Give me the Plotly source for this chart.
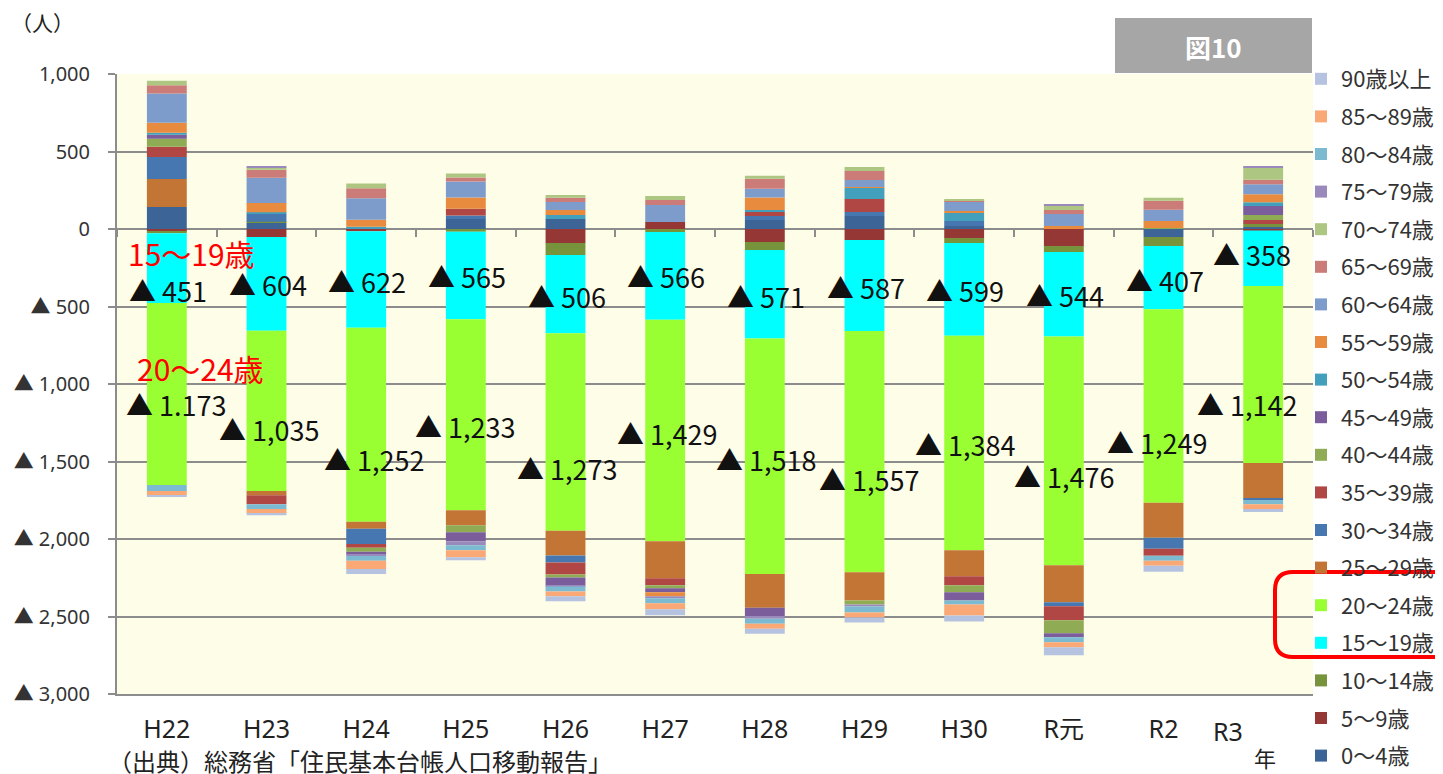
import plotly.graph_objects as go

# ---------------- data ----------------
years = ["H22", "H23", "H24", "H25", "H26", "H27", "H28", "H29", "H30", "R元", "R2", "R3"]

age_groups = ["0～4歳", "5～9歳", "10～14歳", "15～19歳", "20～24歳", "25～29歳",
              "30～34歳", "35～39歳", "40～44歳", "45～49歳", "50～54歳", "55～59歳",
              "60～64歳", "65～69歳", "70～74歳", "75～79歳", "80～84歳", "85～89歳",
              "90歳以上"]

a00_04 = [142, 39, -5, 65, 65, 0, 58, 84, 19, 0, -52, 13]
a05_09 = [-17, -52, -10, 0, -90, 45, -84, -71, -58, -110, 0, -10]
a10_14 = [-10, 8, 0, -17, -77, -19, -52, 0, -32, -39, -58, 19]
a15_19 = [-451, -604, -622, -565, -506, -566, -571, -587, -599, -544, -407, -358]
a20_24 = [-1173, -1035, -1252, -1233, -1273, -1429, -1518, -1557, -1384, -1476, -1249, -1142]
a25_29 = [181, -26, -45, -97, -161, -239, -219, -181, -168, -239, -226, -226]
a30_34 = [142, 52, -99, 22, -45, 0, 26, 26, 32, -26, -71, -13]
a35_39 = [65, -58, -24, 43, -77, -45, 26, 84, -58, -90, -45, 26]
a40_44 = [52, 0, -26, -45, -19, -19, 0, -26, -45, -84, 6, 32]
a45_49 = [26, 0, -15, -58, -52, -26, -52, 0, -52, -26, 0, 58]
a50_54 = [13, 9, 15, 0, 26, 0, 13, 71, 52, 0, 0, 24]
a55_59 = [65, 60, 45, 73, 32, -26, 80, 6, 13, 19, 45, 52]
a60_64 = [189, 163, 138, 103, 52, 110, 56, 45, 58, 77, 73, 65]
a65_69 = [52, 52, 65, 26, 26, 32, 65, 58, 13, 26, 58, 28]
a70_74 = [30, 13, 30, 26, 19, 26, 19, 26, 6, 32, 19, 77]
a75_79 = [0, 6, -11, -26, -6, -13, -19, -13, 0, 6, 0, 13]
a80_84 = [-39, -32, -32, -32, -32, -32, -32, -39, -26, -32, -32, -26]
a85_89 = [-26, -26, -52, -45, -32, -39, -32, -32, -71, -32, -32, -32]
a90_up = [-13, -13, -32, -19, -32, -39, -32, -32, -39, -52, -39, -19]

series = [a00_04, a05_09, a10_14, a15_19, a20_24, a25_29, a30_34, a35_39, a40_44,
          a45_49, a50_54, a55_59, a60_64, a65_69, a70_74, a75_79, a80_84, a85_89, a90_up]

colors = ["#3C6496", "#953735", "#77933C", "#00FFFF", "#99FF33", "#C27535",
          "#4677B0", "#B14744", "#8FAC55", "#7A5D9A", "#42A0BC", "#E98B3F",
          "#7E9CCB", "#CB7B78", "#ADC682", "#9A8ABB", "#7BBAD1", "#F9A876",
          "#B5C3E0"]

y_tickvals = [-3000, -2500, -2000, -1500, -1000, -500, 0, 500, 1000]
y_ticktext = ["▲ 3,000", "▲ 2,500", "▲ 2,000", "▲ 1,500", "▲ 1,000", "▲ 500", "0", "500", "1,000"]

# x tick labels (the last one is drawn a little to the left, beside "年")
x_ticktext = ["H22", "H23", "H24", "H25", "H26", "H27", "H28", "H29", "H30", "R元", "R2", ""]
last_tick_label = "R3"

# label text for the two highlighted groups
lab15_text = ["▲ 451", "▲ 604", "▲ 622", "▲ 565", "▲ 506", "▲ 566", "▲ 571", "▲ 587",
              "▲ 599", "▲ 544", "▲ 407", "▲ 358"]
lab20_text = ["▲ 1.173", "▲ 1,035", "▲ 1,252", "▲ 1,233", "▲ 1,273", "▲ 1,429", "▲ 1,518",
              "▲ 1,557", "▲ 1,384", "▲ 1,476", "▲ 1,249", "▲ 1,142"]
# manual label nudges (px)
lab15_dx = [1, 1, 1, 1, 1, 1, 1, 1, 1, 1, 1, -11]
lab15_dy = [-22, -1, -2, -1, -2, -1, -2, -2, -1, -1, -3, 4]
lab20_dx = [10, 3, 8, 0, 2, 2, 2, 5, 1, 1, -6, -16]
lab20_dy = [-10, -19, -35, -12, -37, -3, -3, -28, -1, -26, -37, -30]

# ---------------- figure ----------------
FONT = "Noto Sans CJK JP, Noto Sans, sans-serif"
TICKFONT = "Noto Sans, Noto Sans CJK JP, sans-serif"
OFF = 8  # page body margin
W, H = 1443 - OFF, 774 - OFF
# plot area in page pixels
L, R, T, B = 117, 1313, 74, 694

def px(xp):
    return (xp - L) / (R - L)

def py(yp):
    return (B - yp) / (B - T)

fig = go.Figure()

for i, (name, vals, col) in enumerate(zip(age_groups, series, colors)):
    fig.add_trace(go.Bar(
        x=years, y=vals, name=name, marker=dict(color=col, line=dict(width=0)),
        legendgroup=name, legendrank=1000 - i * 10, hoverinfo="x+y+name",
    ))

# invisible trace for the axis at zero (category ticks)
fig.add_trace(go.Scatter(x=years, y=[0] * len(years), xaxis="x2", mode="none",
                         showlegend=False, hoverinfo="skip"))

annotations = []
for j, yr in enumerate(years):
    base = sum(v[j] for v in (a00_04, a05_09, a10_14) if v[j] < 0)
    mid15 = base + a15_19[j] / 2
    mid20 = base + a15_19[j] + a20_24[j] / 2
    annotations.append(dict(x=yr, y=mid15, text=lab15_text[j], showarrow=False,
                            xanchor="center", yanchor="middle",
                            xshift=lab15_dx[j], yshift=lab15_dy[j],
                            font=dict(size=27, color="#111111", family=FONT)))
    annotations.append(dict(x=yr, y=mid20, text=lab20_text[j], showarrow=False,
                            xanchor="center", yanchor="middle",
                            xshift=lab20_dx[j], yshift=lab20_dy[j],
                            font=dict(size=27, color="#111111", family=FONT)))

def paper_text(x, y, text, size, color="#222222", xanchor="center", family=FONT):
    return dict(xref="paper", yref="paper", x=px(x), y=py(y), text=text, showarrow=False,
                xanchor=xanchor, yanchor="middle",
                font=dict(size=size, color=color, family=family))

annotations += [
    paper_text(191, 253, "15～19歳", 30, "#FF0000"),
    paper_text(200, 368, "20～24歳", 30, "#FF0000"),
    paper_text(42, 22, "（人）", 21),
    paper_text(106, 760, "（出典）総務省「住民基本台帳人口移動報告」", 24, xanchor="left"),
    paper_text(1265, 757, "年", 22),
    paper_text(1228, 731, last_tick_label, 25, family=TICKFONT),
    paper_text(1213, 46, "<b>図10</b>", 26, "#FFFFFF"),
]

def rounded_box_path():
    r_x, r_y = 18, 18
    x0, x1, y0, y1 = 1275, 1460, 572, 657
    return (f"M {px(x1)} {py(y0)} L {px(x0 + r_x)} {py(y0)} "
            f"Q {px(x0)} {py(y0)} {px(x0)} {py(y0 + r_y)} "
            f"L {px(x0)} {py(y1 - r_y)} "
            f"Q {px(x0)} {py(y1)} {px(x0 + r_x)} {py(y1)} "
            f"L {px(x1)} {py(y1)}")

shapes = [
    dict(type="rect", xref="paper", yref="paper", x0=px(1115), x1=px(1312),
         y0=py(73), y1=py(18), fillcolor="#A6A6A6", line=dict(width=0), layer="below"),
    dict(type="path", xref="paper", yref="paper", path=rounded_box_path(),
         line=dict(color="#FF0000", width=4), layer="above"),
]

fig.update_layout(
    width=W, height=H,
    barmode="relative", bargap=0.6,
    plot_bgcolor="#FEFDE8", paper_bgcolor="#FFFFFF",
    margin=dict(l=L - OFF, r=W - (R - OFF), t=T - OFF, b=H - (B - OFF), pad=0,
                autoexpand=False),
    font=dict(family=FONT, color="#222222"),
    showlegend=True,
    legend=dict(
        traceorder="grouped", tracegroupgap=6,
        x=px(1301), y=py(58), xanchor="left", yanchor="top",
        font=dict(size=22, color="#333333", family=FONT),
        bgcolor="rgba(0,0,0,0)", borderwidth=0, itemwidth=30, maxheight=1,
    ),
    xaxis=dict(
        type="category", categoryorder="array", categoryarray=years,
        tickvals=years, ticktext=x_ticktext, automargin=False,
        showgrid=False, showline=True, linecolor="#8C8C8C", linewidth=2,
        ticks="", tickfont=dict(size=25, color="#222222", family=TICKFONT),
        ticklabelstandoff=12, zeroline=False, fixedrange=True,
    ),
    xaxis2=dict(
        type="category", categoryorder="array", categoryarray=years,
        overlaying="x", matches="x", anchor="free", position=0.75, automargin=False,
        showline=False, showgrid=False, ticks="outside", tickson="boundaries",
        ticklen=7, tickwidth=2, tickcolor="#8C8C8C", showticklabels=False,
    ),
    yaxis=dict(
        range=[-3000, 1000], tickvals=y_tickvals, ticktext=y_ticktext, automargin=False,
        showgrid=True, gridcolor="#8C8C8C", gridwidth=2,
        zeroline=True, zerolinecolor="#8C8C8C", zerolinewidth=2,
        showline=True, linecolor="#8C8C8C", linewidth=2,
        ticks="outside", ticklen=7, tickwidth=2, tickcolor="#8C8C8C",
        tickfont=dict(size=20, color="#333333", family=TICKFONT),
        ticklabelstandoff=14,
    ),
    annotations=annotations,
    shapes=shapes,
)

fig.write_html("out.html")
